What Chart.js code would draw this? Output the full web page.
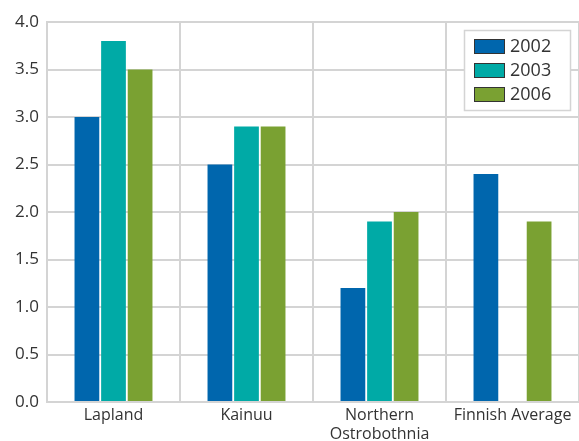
<!DOCTYPE html>
<html>
<head>
<meta charset="utf-8">
<script src="https://cdn.jsdelivr.net/npm/chart.js@4/dist/chart.umd.min.js"></script>
<style>
  html, body { margin: 0; padding: 0; background: #fff; }
  #wrap { width: 579px; height: 441px; }
</style>
</head>
<body>
<div id="wrap"><canvas id="chart" width="579" height="441"></canvas></div>
<script>
// Data
const categories = ['Lapland', 'Kainuu', ['Northern', 'Ostrobothnia'], 'Finnish Average'];
const years = ['2002', '2003', '2006'];
const values2002 = [3.0, 2.5, 1.2, 2.4];
const values2003 = [3.8, 2.9, 1.9, null];
const values2006 = [3.5, 2.9, 2.0, 1.9];
const yTicks = { min: 0, max: 4, step: 0.5 };

const colors = ['#0066ad', '#00aaa6', '#7aa132'];
const gridGrey = '#d4d4d4';
const fontFamily = '"Open Sans", "DejaVu Sans", sans-serif';

// Legend drawn in a white bordered box at the top right
const boxLegend = {
    id: 'boxLegend',
    afterDraw(chart) {
        const ctx = chart.ctx;
        const x = 464, y = 30, w = 106, h = 80;
        ctx.save();
        ctx.fillStyle = '#fff';
        ctx.fillRect(x, y, w, h);
        ctx.strokeStyle = gridGrey;
        ctx.lineWidth = 1.5;
        ctx.strokeRect(x + 0.5, y + 0.5, w, h);
        ctx.font = '18px ' + fontFamily;
        ctx.textBaseline = 'middle';
        chart.data.datasets.forEach((ds, i) => {
            const sy = y + 9 + i * 24;
            ctx.fillStyle = ds.backgroundColor;
            ctx.fillRect(x + 10, sy, 31, 15);
            ctx.strokeStyle = '#333';
            ctx.lineWidth = 1;
            ctx.strokeRect(x + 10.5, sy + 0.5, 30, 14);
            ctx.fillStyle = '#333';
            ctx.fillText(ds.label, x + 46, sy + 8);
        });
        ctx.restore();
    }
};

const ctx = document.getElementById('chart').getContext('2d');
new Chart(ctx, {
    type: 'bar',
    data: {
        labels: categories,
        datasets: [
            { label: years[0], data: values2002, backgroundColor: colors[0] },
            { label: years[1], data: values2003, backgroundColor: colors[1] },
            { label: years[2], data: values2006, backgroundColor: colors[2] }
        ]
    },
    options: {
        responsive: false,
        animation: false,
        layout: { padding: { top: 22, right: 0, left: 0, bottom: 0 } },
        datasets: {
            bar: { categoryPercentage: 0.6, barPercentage: 0.93 }
        },
        plugins: {
            legend: { display: false },
            tooltip: { enabled: false }
        },
        scales: {
            x: {
                grid: { color: gridGrey, lineWidth: 2, drawTicks: false, offset: true },
                border: { color: gridGrey, width: 2 },
                ticks: {
                    color: '#333',
                    padding: 4,
                    font: { family: fontFamily, size: 16 },
                    maxRotation: 0
                },
                afterFit(scale) { scale.height = 39; }
            },
            y: {
                min: yTicks.min,
                max: yTicks.max,
                grid: { color: gridGrey, lineWidth: 2, drawTicks: false },
                border: { color: gridGrey, width: 2 },
                ticks: {
                    stepSize: yTicks.step,
                    color: '#333',
                    padding: 8,
                    font: { family: fontFamily, size: 17 },
                    callback: v => v.toFixed(1)
                },
                afterFit(scale) { scale.width = 47; }
            }
        }
    },
    plugins: [boxLegend]
});
</script>
</body>
</html>
